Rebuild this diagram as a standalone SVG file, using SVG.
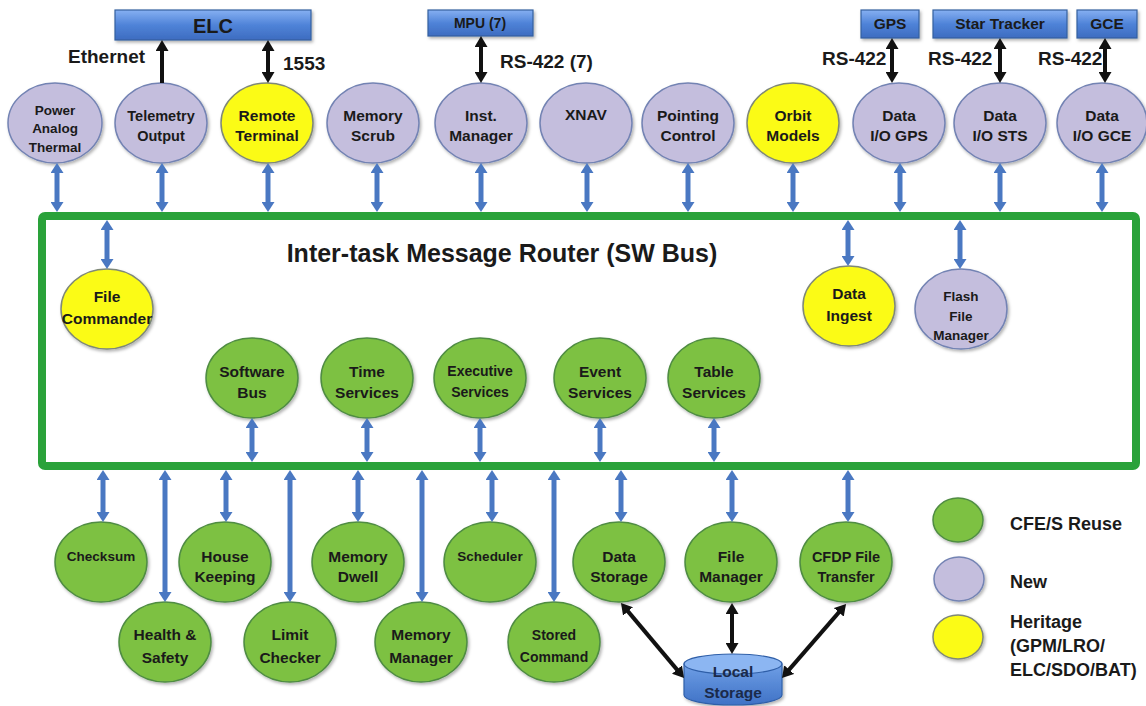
<svg xmlns="http://www.w3.org/2000/svg" width="1146" height="706" viewBox="0 0 1146 706">
<defs>
<style>
.t{font-family:"Liberation Sans",Arial,sans-serif;font-weight:700;fill:#1a1a1a;text-anchor:middle;font-size:15.5px}
.lbl{font-family:"Liberation Sans",Arial,sans-serif;font-weight:700;fill:#1a1a1a;font-size:19px}
.np{fill:#c4bedd;stroke:#7383b3;stroke-width:1.5}
.ny{fill:#fbfb16;stroke:#7f8878;stroke-width:1.5}
.ng{fill:#7dc143;stroke:#4f8c43;stroke-width:1.5}
.box{fill:url(#gbox);stroke:#34609f;stroke-width:1.2}
.ba{stroke:#4a78c2;stroke-width:5;fill:none;marker-start:url(#hb);marker-end:url(#hb)}
.ka{stroke:#111;stroke-width:4;fill:none;marker-start:url(#hk);marker-end:url(#hk)}
.sh{filter:url(#ds)}
</style>
<linearGradient id="gbox" x1="0" y1="0" x2="0" y2="1">
<stop offset="0" stop-color="#86b0f2"/>
<stop offset="0.5" stop-color="#4f83d8"/>
<stop offset="1" stop-color="#3d6cc0"/>
</linearGradient>
<linearGradient id="gcyl" x1="0" y1="0" x2="0" y2="1">
<stop offset="0" stop-color="#6f9fe6"/>
<stop offset="1" stop-color="#3f72c6"/>
</linearGradient>
<marker id="hb" markerUnits="userSpaceOnUse" markerWidth="10" markerHeight="13" refX="3" refY="6.5" orient="auto-start-reverse">
<path d="M0,0 L10,6.5 L0,13 Z" fill="#4a78c2"/>
</marker>
<marker id="hk" markerUnits="userSpaceOnUse" markerWidth="11" markerHeight="13" refX="3" refY="6.5" orient="auto-start-reverse">
<path d="M0,0 L11,6.5 L0,13 Z" fill="#111"/>
</marker>
<filter id="ds" x="-20%" y="-20%" width="150%" height="150%">
<feDropShadow dx="1.5" dy="2" stdDeviation="1.5" flood-color="#000" flood-opacity="0.3"/>
</filter>
</defs>
<rect x="0" y="0" width="1146" height="706" fill="#fff"/>

<g id="bus">
<rect x="42" y="216" width="1094" height="250" rx="3" fill="#fff" stroke="#2aa23a" stroke-width="8"/>
<text class="t" x="502" y="262" style="font-size:25px">Inter-task Message Router (SW Bus)</text>
</g>

<g id="box-elc"><rect class="box sh" x="115" y="10" width="196" height="30"/><text class="t" x="213" y="33" style="font-size:20px">ELC</text></g>
<g id="box-mpu"><rect class="box sh" x="428" y="10" width="105" height="26"/><text class="t" x="480" y="28" style="font-size:14px">MPU (7)</text></g>
<g id="box-gps"><rect class="box sh" x="861" y="10" width="58" height="28"/><text class="t" x="890" y="29">GPS</text></g>
<g id="box-star-tracker"><rect class="box sh" x="933" y="10" width="134" height="28"/><text class="t" x="1000" y="29">Star Tracker</text></g>
<g id="box-gce"><rect class="box sh" x="1077" y="10" width="60" height="28"/><text class="t" x="1107" y="29">GCE</text></g>

<g id="n-power-analog-thermal"><ellipse class="np sh" cx="55" cy="123" rx="47" ry="40"/><text class="t" x="55" y="115" style="font-size:13.5px">Power</text><text class="t" x="55" y="133" style="font-size:13.5px">Analog</text><text class="t" x="55" y="152" style="font-size:13.5px">Thermal</text></g>
<g id="n-telemetry-output"><ellipse class="np sh" cx="161" cy="123" rx="46" ry="40"/><text class="t" x="161" y="121" style="font-size:14.5px">Telemetry</text><text class="t" x="161" y="141" style="font-size:14.5px">Output</text></g>
<g id="n-remote-terminal"><ellipse class="ny sh" cx="267" cy="123" rx="46" ry="40"/><text class="t" x="267" y="121">Remote</text><text class="t" x="267" y="141">Terminal</text></g>
<g id="n-memory-scrub"><ellipse class="np sh" cx="373" cy="123" rx="46" ry="40"/><text class="t" x="373" y="121">Memory</text><text class="t" x="373" y="141">Scrub</text></g>
<g id="n-inst-manager"><ellipse class="np sh" cx="481" cy="123" rx="46" ry="40"/><text class="t" x="481" y="121">Inst.</text><text class="t" x="481" y="141">Manager</text></g>
<g id="n-xnav"><ellipse class="np sh" cx="586" cy="123" rx="46" ry="40"/><text class="t" x="586" y="120">XNAV</text></g>
<g id="n-pointing-control"><ellipse class="np sh" cx="688" cy="123" rx="46" ry="40"/><text class="t" x="688" y="121">Pointing</text><text class="t" x="688" y="141">Control</text></g>
<g id="n-orbit-models"><ellipse class="ny sh" cx="793" cy="123" rx="46" ry="40"/><text class="t" x="793" y="121">Orbit</text><text class="t" x="793" y="141">Models</text></g>
<g id="n-data-io-gps"><ellipse class="np sh" cx="899" cy="123" rx="46" ry="40"/><text class="t" x="899" y="121">Data</text><text class="t" x="899" y="141">I/O GPS</text></g>
<g id="n-data-io-sts"><ellipse class="np sh" cx="1000" cy="123" rx="46" ry="40"/><text class="t" x="1000" y="121">Data</text><text class="t" x="1000" y="141">I/O STS</text></g>
<g id="n-data-io-gce"><ellipse class="np sh" cx="1102" cy="123" rx="45" ry="40"/><text class="t" x="1102" y="121">Data</text><text class="t" x="1102" y="141">I/O GCE</text></g>

<g id="n-file-commander"><ellipse class="ny sh" cx="107" cy="309" rx="46" ry="40"/><text class="t" x="107" y="302">File</text><text class="t" x="107" y="324">Commander</text></g>
<g id="n-data-ingest"><ellipse class="ny sh" cx="849" cy="306" rx="46" ry="40"/><text class="t" x="849" y="299">Data</text><text class="t" x="849" y="321">Ingest</text></g>
<g id="n-flash-file-manager"><ellipse class="np sh" cx="961" cy="309" rx="46" ry="40"/><text class="t" x="961" y="301" style="font-size:13.5px">Flash</text><text class="t" x="961" y="321" style="font-size:13.5px">File</text><text class="t" x="961" y="340" style="font-size:13.5px">Manager</text></g>
<g id="n-software-bus"><ellipse class="ng sh" cx="252" cy="378" rx="46" ry="40"/><text class="t" x="252" y="377">Software</text><text class="t" x="252" y="398">Bus</text></g>
<g id="n-time-services"><ellipse class="ng sh" cx="367" cy="378" rx="46" ry="40"/><text class="t" x="367" y="377">Time</text><text class="t" x="367" y="398">Services</text></g>
<g id="n-executive-services"><ellipse class="ng sh" cx="480" cy="378" rx="46" ry="40"/><text class="t" x="480" y="376" style="font-size:14px">Executive</text><text class="t" x="480" y="397" style="font-size:14px">Services</text></g>
<g id="n-event-services"><ellipse class="ng sh" cx="600" cy="378" rx="46" ry="40"/><text class="t" x="600" y="377">Event</text><text class="t" x="600" y="398">Services</text></g>
<g id="n-table-services"><ellipse class="ng sh" cx="714" cy="378" rx="46" ry="40"/><text class="t" x="714" y="377">Table</text><text class="t" x="714" y="398">Services</text></g>

<g id="n-checksum"><ellipse class="ng sh" cx="101" cy="562" rx="46" ry="40"/><text class="t" x="101" y="561" style="font-size:13.5px">Checksum</text></g>
<g id="n-house-keeping"><ellipse class="ng sh" cx="225" cy="562" rx="46" ry="40"/><text class="t" x="225" y="562">House</text><text class="t" x="225" y="582">Keeping</text></g>
<g id="n-memory-dwell"><ellipse class="ng sh" cx="358" cy="562" rx="46" ry="40"/><text class="t" x="358" y="562">Memory</text><text class="t" x="358" y="582">Dwell</text></g>
<g id="n-scheduler"><ellipse class="ng sh" cx="490" cy="562" rx="46" ry="40"/><text class="t" x="490" y="561" style="font-size:13.5px">Scheduler</text></g>
<g id="n-data-storage"><ellipse class="ng sh" cx="619" cy="562" rx="46" ry="40"/><text class="t" x="619" y="562">Data</text><text class="t" x="619" y="582">Storage</text></g>
<g id="n-file-manager"><ellipse class="ng sh" cx="731" cy="562" rx="46" ry="40"/><text class="t" x="731" y="562">File</text><text class="t" x="731" y="582">Manager</text></g>
<g id="n-cfdp-file-transfer"><ellipse class="ng sh" cx="846" cy="562" rx="46" ry="40"/><text class="t" x="846" y="562" style="font-size:14.5px">CFDP File</text><text class="t" x="846" y="582" style="font-size:14.5px">Transfer</text></g>
<g id="n-health-safety"><ellipse class="ng sh" cx="165" cy="642" rx="46" ry="40"/><text class="t" x="165" y="640">Health &amp;</text><text class="t" x="165" y="663">Safety</text></g>
<g id="n-limit-checker"><ellipse class="ng sh" cx="290" cy="642" rx="46" ry="40"/><text class="t" x="290" y="640">Limit</text><text class="t" x="290" y="663">Checker</text></g>
<g id="n-memory-manager"><ellipse class="ng sh" cx="421" cy="642" rx="46" ry="40"/><text class="t" x="421" y="640">Memory</text><text class="t" x="421" y="663">Manager</text></g>
<g id="n-stored-command"><ellipse class="ng sh" cx="554" cy="642" rx="46" ry="40"/><text class="t" x="554" y="640" style="font-size:14px">Stored</text><text class="t" x="554" y="662" style="font-size:14px">Command</text></g>

<g id="n-local-storage">
<path class="sh" d="M684,664 L684,695 A49,10 0 0 0 782,695 L782,664 Z" fill="url(#gcyl)" stroke="#2f5fa8" stroke-width="1.2"/>
<ellipse cx="733" cy="664" rx="49" ry="10" fill="#8cb6f2" stroke="#2f5fa8" stroke-width="1.2"/>
<text class="t" x="733" y="677" style="fill:#1b2a4a">Local</text>
<text class="t" x="733" y="698" style="fill:#1b2a4a">Storage</text>
</g>

<g id="connector-labels">
<text class="lbl" x="68" y="63">Ethernet</text>
<text class="lbl" x="283" y="70">1553</text>
<text class="lbl" x="500" y="68">RS-422 (7)</text>
<text class="lbl" x="822" y="65">RS-422</text>
<text class="lbl" x="928" y="65">RS-422</text>
<text class="lbl" x="1038" y="65">RS-422</text>
</g>

<g id="connectors">
<line class="ba" x1="57" y1="170" x2="57" y2="205"/>
<line class="ba" x1="162" y1="170" x2="162" y2="205"/>
<line class="ba" x1="268" y1="170" x2="268" y2="205"/>
<line class="ba" x1="377" y1="170" x2="377" y2="205"/>
<line class="ba" x1="481" y1="170" x2="481" y2="205"/>
<line class="ba" x1="587" y1="170" x2="587" y2="205"/>
<line class="ba" x1="688" y1="170" x2="688" y2="205"/>
<line class="ba" x1="793" y1="170" x2="793" y2="205"/>
<line class="ba" x1="900" y1="170" x2="900" y2="205"/>
<line class="ba" x1="1000" y1="170" x2="1000" y2="205"/>
<line class="ba" x1="1102" y1="170" x2="1102" y2="205"/>

<line class="ba" x1="107" y1="227" x2="107" y2="262"/>
<line class="ba" x1="848" y1="227" x2="848" y2="259"/>
<line class="ba" x1="960" y1="227" x2="960" y2="262"/>

<line class="ba" x1="252" y1="425" x2="252" y2="455"/>
<line class="ba" x1="367" y1="425" x2="367" y2="455"/>
<line class="ba" x1="480" y1="425" x2="480" y2="455"/>
<line class="ba" x1="600" y1="425" x2="600" y2="455"/>
<line class="ba" x1="714" y1="425" x2="714" y2="455"/>

<line class="ba" x1="103" y1="477" x2="103" y2="515"/>
<line class="ba" x1="226" y1="477" x2="226" y2="515"/>
<line class="ba" x1="358" y1="477" x2="358" y2="515"/>
<line class="ba" x1="492" y1="477" x2="492" y2="515"/>
<line class="ba" x1="621" y1="477" x2="621" y2="515"/>
<line class="ba" x1="732" y1="477" x2="732" y2="515"/>
<line class="ba" x1="848" y1="477" x2="848" y2="515"/>
<line class="ba" x1="165" y1="477" x2="165" y2="595"/>
<line class="ba" x1="290" y1="477" x2="290" y2="595"/>
<line class="ba" x1="422" y1="477" x2="422" y2="595"/>
<line class="ba" x1="554" y1="477" x2="554" y2="595"/>

<line x1="162" y1="83" x2="162" y2="48" stroke="#111" stroke-width="4" marker-end="url(#hk)"/>
<line class="ka" x1="268" y1="48" x2="268" y2="75"/>
<line class="ka" x1="481" y1="44" x2="481" y2="75"/>
<line class="ka" x1="892" y1="46" x2="892" y2="75"/>
<line class="ka" x1="1000" y1="46" x2="1000" y2="75"/>
<line class="ka" x1="1105" y1="46" x2="1105" y2="75"/>

<line class="ka" x1="626.1" y1="609.1" x2="678.9" y2="671.9"/>
<line class="ka" x1="732" y1="611" x2="732" y2="646"/>
<line class="ka" x1="840.8" y1="610.1" x2="787.2" y2="671.9"/>
</g>

<g id="legend">
<ellipse class="ng sh" cx="958" cy="520" rx="25" ry="22"/>
<ellipse class="np sh" cx="959" cy="579" rx="25" ry="22"/>
<ellipse class="ny sh" cx="958" cy="637" rx="25" ry="22"/>
<text class="lbl" x="1010" y="530" style="font-size:18px">CFE/S Reuse</text>
<text class="lbl" x="1010" y="588" style="font-size:18px">New</text>
<text class="lbl" x="1010" y="628" style="font-size:18px">Heritage</text>
<text class="lbl" x="1010" y="652" style="font-size:18px">(GPM/LRO/</text>
<text class="lbl" x="1010" y="676" style="font-size:18px">ELC/SDO/BAT)</text>
</g>
</svg>
